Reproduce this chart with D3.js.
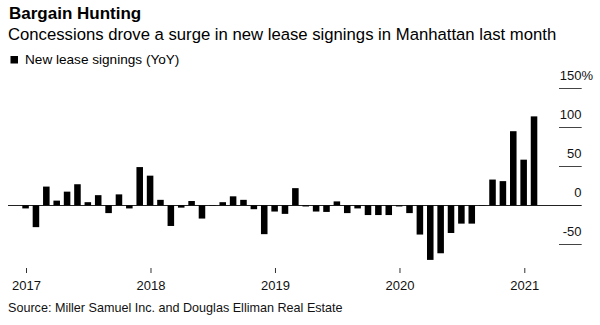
<!DOCTYPE html>
<html>
<head>
<meta charset="utf-8">
<script src="https://cdn.jsdelivr.net/npm/d3@7"></script>
<style>
  html, body { margin: 0; padding: 0; background: #fff; }
  svg { display: block; font-family: "Liberation Sans", Arial, Helvetica, sans-serif; }
</style>
</head>
<body>
<svg width="600" height="325"></svg>
<script>
// monthly YoY change in new lease signings, Jan 2017 - Feb 2021
const months = d3.timeMonths(new Date(2017, 0, 1), new Date(2021, 2, 1));
const signings = [
  -4, -28, 24, 6, 17.5, 27, 4, 13, -10, 14, -4, 49,
  38, 7, -26.5, -3, 5.5, -17, -0.5, 4, 11.5, 7, -5, -37,
  -8, -11, 22, -1.5, -8, -8.5, 5, -10, -4, -12.5, -12.5, -12.5,
  -1.5, -10, -37.5, -70, -61.5, -35.5, -23.5, -23.5, -0.5, 33, 31, 95,
  58.5, 114
];
const yTicks = [-50, 0, 50, 100, 150];
const yearTicks = [2017, 2018, 2019, 2020, 2021];

const svg = d3.select('svg');

// titles
svg.append('text')
  .attr('x', 9).attr('y', 19)
  .attr('font-size', 17).attr('font-weight', 'bold')
  .text('Bargain Hunting');

svg.append('text')
  .attr('x', 8).attr('y', 39.5)
  .attr('font-size', 16.7)
  .text('Concessions drove a surge in new lease signings in Manhattan last month');

// legend
svg.append('rect')
  .attr('x', 10.5).attr('y', 56).attr('width', 7.5).attr('height', 7.5)
  .attr('fill', '#000');
svg.append('text')
  .attr('x', 25).attr('y', 63.5)
  .attr('font-size', 13.6)
  .text('New lease signings (YoY)');

// scales
const x = d3.scaleBand()
  .domain(months)
  .range([22.3, 537.3])
  .paddingInner(0.37)
  .paddingOuter(0);

const xTime = d3.scaleTime()
  .domain([new Date(2017, 0, 1), new Date(2021, 0, 1)])
  .range([26, 524.3]);

const y = d3.scaleLinear().domain([-50, 150]).range([244.3, 88.3]);

// y gridlines and labels, on the right
const yAxis = svg.append('g').attr('class', 'y-axis');
yAxis.selectAll('line').data(yTicks).enter()
  .append('line')
  .attr('x1', d => d === 0 ? 8 : 559)
  .attr('x2', 581.7)
  .attr('y1', d => Math.round(y(d)) + 0.5)
  .attr('y2', d => Math.round(y(d)) + 0.5)
  .attr('stroke', d => d === 0 ? '#222' : '#444')
  .attr('stroke-width', 1);

yAxis.selectAll('text').data(yTicks).enter()
  .append('text')
  .attr('x', 581.5)
  .attr('y', d => y(d) - 8.5)
  .attr('text-anchor', 'end')
  .attr('font-size', 13)
  .attr('fill', '#111')
  .text(d => d === -50 ? '-50' : d);

yAxis.append('text')
  .attr('x', 581.5).attr('y', y(150) - 8.5)
  .attr('font-size', 13).attr('fill', '#111')
  .text('%');

// bars
svg.append('g').selectAll('rect')
  .data(signings)
  .enter().append('rect')
  .attr('x', (d, i) => x(months[i]))
  .attr('width', x.bandwidth())
  .attr('y', d => y(Math.max(0, d)))
  .attr('height', d => Math.abs(y(d) - y(0)))
  .attr('fill', '#000');

// year axis
const xAxis = d3.axisBottom(xTime)
  .tickValues(yearTicks.map(yr => new Date(yr, 0, 1)))
  .tickFormat(d3.timeFormat('%Y'))
  .tickSize(5)
  .tickPadding(8);

const xAxisGroup = svg.append('g')
  .attr('class', 'x-axis')
  .attr('transform', 'translate(0,268)')
  .call(xAxis);
xAxisGroup.select('.domain').remove();
xAxisGroup.selectAll('.tick line').attr('stroke', '#333');
xAxisGroup.selectAll('.tick text')
  .attr('font-size', 13)
  .attr('font-family', null)
  .attr('fill', '#111');

// source
svg.append('text')
  .attr('x', 8).attr('y', 312)
  .attr('font-size', 12.6)
  .attr('fill', '#111')
  .text('Source: Miller Samuel Inc. and Douglas Elliman Real Estate');
</script>
</body>
</html>
